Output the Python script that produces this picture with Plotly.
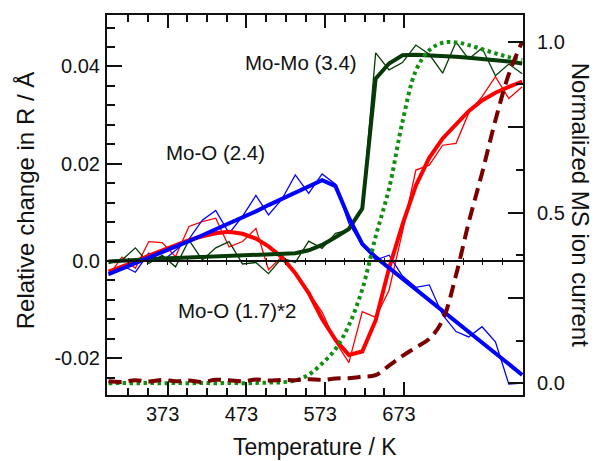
import plotly.graph_objects as go

# Temperature grid (K)
temperature = [298, 315, 332, 349, 366, 383, 400, 417, 434, 451, 468, 485, 501, 518, 535, 552,
               569, 586, 603, 620, 637, 654, 671, 688, 705, 722, 739, 755, 772, 789, 806, 823]

# Mo-O (2.4): raw and fit (relative change in R / Å)
moo24_raw = [-0.0025, -0.0009, -0.0023, 0.0016, -0.0001, 0.0022, 0.0045, 0.0084, 0.0104, 0.0057, 0.0092,
             0.0135, 0.0095, 0.0127, 0.0177, 0.0139, 0.0179, 0.0158, 0.0077, 0.0033, 0.0002, 0.0012,
             -0.0031, -0.0054, -0.0049, -0.0111, -0.0145, -0.0156, -0.0135, -0.0166, -0.0253, -0.0251]
moo24_fit = [-0.0027, -0.0016, -0.0005, 0.0006, 0.0017, 0.0029, 0.0041, 0.0053, 0.0065, 0.0077, 0.0089,
             0.0102, 0.0115, 0.0128, 0.0142, 0.0155, 0.0166, 0.0154, 0.0089, 0.0035, 0.0008, -0.0014,
             -0.0036, -0.0058, -0.0080, -0.0103, -0.0125, -0.0147, -0.0169, -0.0191, -0.0213, -0.0234]

# Mo-O (1.7)*2
moo17_raw = [-0.0030, 0.0008, -0.0015, 0.0040, 0.0038, 0.0009, 0.0071, 0.0081, 0.0088, 0.0029, 0.0040,
             0.0067, -0.0018, 0.0009, -0.0025, -0.0066, -0.0105, -0.0166, -0.0209, -0.0104, -0.0116,
             -0.0060, 0.0060, 0.0187, 0.0197, 0.0238, 0.0242, 0.0304, 0.0338, 0.0379, 0.0334, 0.0358]
moo17_fit = [-0.0022, -0.0012, -0.0001, 0.0011, 0.0022, 0.0033, 0.0043, 0.0051, 0.0057, 0.0060, 0.0056,
             0.0046, 0.0030, 0.0008, -0.0025, -0.0066, -0.0119, -0.0162, -0.0193, -0.0186, -0.0122,
             -0.0015, 0.0075, 0.0155, 0.0212, 0.0252, 0.0281, 0.0308, 0.0330, 0.0346, 0.0358, 0.0369]

# Mo-Mo (3.4)
momo_raw = [-0.0005, 0.0002, 0.0027, -0.0005, 0.0012, -0.0012, 0.0043, 0.0002, 0.0027, 0.0040, -0.0006,
            -0.0003, -0.0026, 0.0006, -0.0003, 0.0041, 0.0026, 0.0057, 0.0064, 0.0110, 0.0428, 0.0393,
            0.0408, 0.0444, 0.0425, 0.0386, 0.0450, 0.0415, 0.0438, 0.0381, 0.0405, 0.0385]
momo_fit = [-0.0001, 0.0001, 0.0002, 0.0004, 0.0005, 0.0006, 0.0007, 0.0008, 0.0009, 0.0010, 0.0011,
            0.0012, 0.0012, 0.0013, 0.0016, 0.0022, 0.0033, 0.0049, 0.0066, 0.0108, 0.0375, 0.0406,
            0.0423, 0.0424, 0.0423, 0.0422, 0.0420, 0.0418, 0.0416, 0.0413, 0.0410, 0.0406]

# Normalized MS ion currents
ms_green = [0.000, 0.001, 0.000, 0.001, 0.000, 0.001, 0.000, 0.001, 0.000, 0.001, 0.000, 0.001, 0.002,
            0.003, 0.008, 0.025, 0.058, 0.100, 0.170, 0.275, 0.430, 0.570, 0.765, 0.915, 0.975, 0.997,
            0.998, 0.990, 0.978, 0.966, 0.955, 0.946]
ms_maroon = [0.006, 0.004, 0.009, 0.005, 0.010, 0.006, 0.008, 0.004, 0.010, 0.009, 0.006, 0.011, 0.008,
             0.010, 0.009, 0.012, 0.010, 0.014, 0.015, 0.019, 0.024, 0.052, 0.080, 0.105, 0.130, 0.185,
             0.317, 0.470, 0.615, 0.770, 0.905, 1.000]

# Axis settings
x_range = [296, 824]
x_major = [373, 473, 573, 673]
x_minor = [323, 348, 398, 423, 448, 498, 523, 548, 598, 623, 648]
zero_ticks = [323, 348, 373, 398, 423, 448, 473, 498, 523, 548, 573, 598, 623, 648, 673, 698, 723,
              748, 773, 798]
yl_range = [-0.02754, 0.05057]
yl_ticks = [-0.02, 0.0, 0.02, 0.04]
yl_text = ["-0.02", "0.0", "0.02", "0.04"]
yr_range = [-0.0343, 1.0782]
yr_ticks = [0.0, 0.25, 0.5, 0.75, 1.0]
yr_text = ["0.0", "", "0.5", "", "1.0"]
yr_minor = [0.125, 0.375, 0.625, 0.875]

FONT = "Liberation Sans, Arial, Helvetica, sans-serif"
BLUE = "#0000ff"
RED = "#ff0000"
DGREEN = "#063a06"
GREEN = "#10900f"
MAROON = "#7a0000"

fig = go.Figure()

def line(y, color, width, yaxis="y", dash=None, shape="linear"):
    fig.add_trace(go.Scatter(x=temperature, y=y, mode="lines", yaxis=yaxis, showlegend=False,
                             line=dict(color=color, width=width, dash=dash, shape=shape),
                             hoverinfo="skip"))

# thin raw lines
line(moo17_raw, RED, 1.3)
line(momo_raw, DGREEN, 1.3)
line(moo24_raw, BLUE, 1.3)
# thick fits
line(moo17_fit, RED, 4)
line(momo_fit, DGREEN, 4)
line(moo24_fit, BLUE, 4)
# MS curves
line(ms_green, GREEN, 4, yaxis="y2", dash="3.5px,3.5px", shape="spline")
line(ms_maroon, MAROON, 4, yaxis="y2", dash="13px,7px", shape="spline")

# dummy traces to activate zero-line axes
fig.add_trace(go.Scatter(x=[None], y=[None], xaxis="x2", yaxis="y", showlegend=False, hoverinfo="skip"))
fig.add_trace(go.Scatter(x=[None], y=[None], xaxis="x3", yaxis="y", showlegend=False, hoverinfo="skip"))

zero_pos = (0 - yl_range[0]) / (yl_range[1] - yl_range[0])

axis_common = dict(showgrid=False, zeroline=False, linecolor="#111", tickcolor="#111")

fig.update_layout(
    width=596, height=461,
    margin=dict(l=107, r=73, t=15, b=66),
    paper_bgcolor="white", plot_bgcolor="white",
    font=dict(family=FONT, color="#111", size=20),
    xaxis=dict(range=x_range, tickmode="array", tickvals=x_major, ticktext=[str(v) for v in x_major],
               ticks="inside", ticklen=13, tickwidth=1.5, showline=True, linewidth=2, mirror="ticks",
               tickfont=dict(size=20), ticklabelshift=-5, ticklabelstandoff=0,
               minor=dict(tickmode="array", tickvals=x_minor, ticks="inside", ticklen=7, tickwidth=1.5,
                          tickcolor="#111"),
               **axis_common),
    xaxis2=dict(range=x_range, overlaying="x", anchor="free", position=zero_pos, side="bottom",
                tickmode="array", tickvals=zero_ticks, ticks="outside", ticklen=3, tickwidth=1.3,
                showticklabels=False, showline=True, linewidth=1.5, **axis_common),
    xaxis3=dict(range=x_range, overlaying="x", anchor="free", position=zero_pos, side="bottom",
                tickmode="array", tickvals=zero_ticks, ticks="inside", ticklen=3, tickwidth=1.3,
                showticklabels=False, showline=False, **axis_common),
    yaxis=dict(range=yl_range, tickmode="array", tickvals=yl_ticks, ticktext=yl_text,
               ticks="inside", ticklen=15, tickwidth=1.5, showline=True, linewidth=2,
               tickfont=dict(size=20), ticklabelstandoff=1,
               minor=dict(dtick=0.004, tick0=0, ticks="inside", ticklen=8, tickwidth=1.5, tickcolor="#111"),
               **axis_common),
    yaxis2=dict(range=yr_range, overlaying="y", side="right", anchor="x", tickmode="array",
                tickvals=yr_ticks, ticktext=yr_text, ticks="inside", ticklen=15, tickwidth=1.5,
                showline=True, linewidth=2, tickfont=dict(size=20), ticklabelstandoff=8,
                minor=dict(tickmode="array", tickvals=yr_minor, ticks="inside", ticklen=7, tickwidth=1.5,
                           tickcolor="#111"),
                **axis_common),
    annotations=[
        dict(text="Mo-Mo (3.4)", x=542, y=0.0409, xref="x", yref="y", showarrow=False,
             font=dict(size=20.5)),
        dict(text="Mo-O (2.4)", x=434, y=0.0224, xref="x", yref="y", showarrow=False,
             font=dict(size=20.5)),
        dict(text="Mo-O (1.7)*2", x=461.5, y=-0.0101, xref="x", yref="y", showarrow=False,
             font=dict(size=20.5)),
        dict(text="Relative change in R / Å", x=-0.197, y=0.51, xref="paper", yref="paper",
             textangle=-90, showarrow=False, font=dict(size=24), xanchor="center", yanchor="middle"),
        dict(text="Normalized MS ion current", x=1.14, y=0.50, xref="paper", yref="paper",
             textangle=90, showarrow=False, font=dict(size=24), xanchor="center", yanchor="middle"),
        dict(text="Temperature / K", x=0.5, y=-0.138, xref="paper", yref="paper",
             showarrow=False, font=dict(size=23), xanchor="center", yanchor="middle"),
    ],
)

fig.write_html("out.html", config={"displayModeBar": False},
               post_script="document.body.style.margin='0';document.body.style.padding='0';")
